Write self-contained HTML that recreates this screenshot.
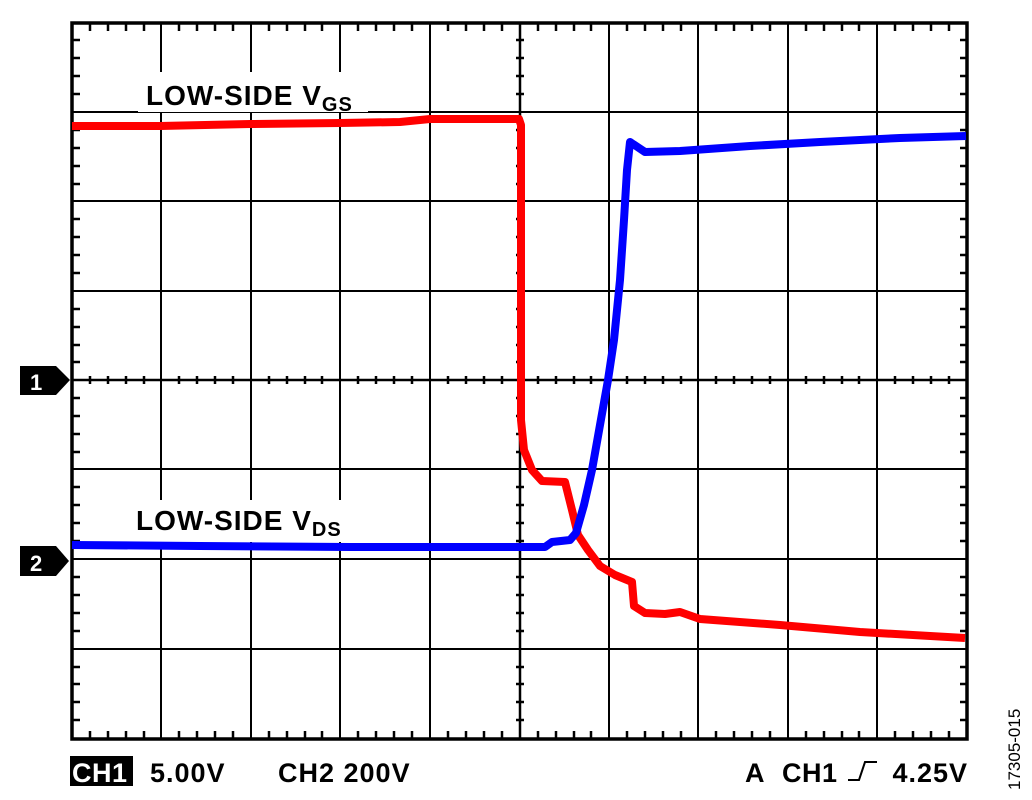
<!DOCTYPE html>
<html><head><meta charset="utf-8"><style>
html,body{margin:0;padding:0;background:#fff;}
svg{display:block;font-family:"Liberation Sans",Arial,sans-serif;font-weight:bold;}
</style></head><body>
<svg width="1032" height="800" viewBox="0 0 1032 800" xmlns="http://www.w3.org/2000/svg">
<g stroke="#000" stroke-width="2" fill="none">
<path d="M161,23V739M251,23V739M340,23V739M430,23V739M609,23V739M698,23V739M788,23V739M877,23V739"/>
<path d="M72,112H967M72,201H967M72,291H967M72,469H967M72,559H967M72,649H967"/>
<path d="M520,23V739M72,380H967" stroke-width="2.5"/>
</g>
<g stroke="#000" stroke-width="2.5">
<path d="M90,24v7M108,24v7M126,24v7M144,24v7M179,24v7M197,24v7M215,24v7M233,24v7M269,24v7M287,24v7M305,24v7M322,24v7M358,24v7M376,24v7M394,24v7M412,24v7M448,24v7M466,24v7M484,24v7M502,24v7M538,24v7M556,24v7M574,24v7M591,24v7M627,24v7M645,24v7M663,24v7M681,24v7M716,24v7M734,24v7M752,24v7M770,24v7M806,24v7M824,24v7M842,24v7M859,24v7M895,24v7M913,24v7M931,24v7M949,24v7"/>
<path d="M90,738v-7M108,738v-7M126,738v-7M144,738v-7M179,738v-7M197,738v-7M215,738v-7M233,738v-7M269,738v-7M287,738v-7M305,738v-7M322,738v-7M358,738v-7M376,738v-7M394,738v-7M412,738v-7M448,738v-7M466,738v-7M484,738v-7M502,738v-7M538,738v-7M556,738v-7M574,738v-7M591,738v-7M627,738v-7M645,738v-7M663,738v-7M681,738v-7M716,738v-7M734,738v-7M752,738v-7M770,738v-7M806,738v-7M824,738v-7M842,738v-7M859,738v-7M895,738v-7M913,738v-7M931,738v-7M949,738v-7"/>
<path d="M90,376v8M108,376v8M126,376v8M144,376v8M179,376v8M197,376v8M215,376v8M233,376v8M269,376v8M287,376v8M305,376v8M322,376v8M358,376v8M376,376v8M394,376v8M412,376v8M448,376v8M466,376v8M484,376v8M502,376v8M538,376v8M556,376v8M574,376v8M591,376v8M627,376v8M645,376v8M663,376v8M681,376v8M716,376v8M734,376v8M752,376v8M770,376v8M806,376v8M824,376v8M842,376v8M859,376v8M895,376v8M913,376v8M931,376v8M949,376v8"/>
<path d="M73,40h7M73,58h7M73,76h7M73,94h7M73,130h7M73,148h7M73,166h7M73,184h7M73,219h7M73,237h7M73,255h7M73,273h7M73,309h7M73,327h7M73,345h7M73,362h7M73,398h7M73,416h7M73,434h7M73,452h7M73,487h7M73,505h7M73,523h7M73,541h7M73,577h7M73,595h7M73,613h7M73,631h7M73,667h7M73,684h7M73,702h7M73,720h7"/>
<path d="M967,40h-7M967,58h-7M967,76h-7M967,94h-7M967,130h-7M967,148h-7M967,166h-7M967,184h-7M967,219h-7M967,237h-7M967,255h-7M967,273h-7M967,309h-7M967,327h-7M967,345h-7M967,362h-7M967,398h-7M967,416h-7M967,434h-7M967,452h-7M967,487h-7M967,505h-7M967,523h-7M967,541h-7M967,577h-7M967,595h-7M967,613h-7M967,631h-7M967,667h-7M967,684h-7M967,702h-7M967,720h-7"/>
<path d="M516,40h8M516,58h8M516,76h8M516,94h8M516,130h8M516,148h8M516,166h8M516,184h8M516,219h8M516,237h8M516,255h8M516,273h8M516,309h8M516,327h8M516,345h8M516,362h8M516,398h8M516,416h8M516,434h8M516,452h8M516,487h8M516,505h8M516,523h8M516,541h8M516,577h8M516,595h8M516,613h8M516,631h8M516,667h8M516,684h8M516,702h8M516,720h8"/>
</g>
<rect x="72" y="23" width="895" height="716" fill="none" stroke="#000" stroke-width="3.5"/>
<rect x="138" y="72" width="230" height="40" fill="#fff"/>
<text x="146" y="105" font-size="28" letter-spacing="1">LOW-SIDE V<tspan font-size="20" dy="6">GS</tspan></text>
<rect x="130" y="500" width="225" height="42" fill="#fff"/>
<text x="136" y="530" font-size="28" letter-spacing="1">LOW-SIDE V<tspan font-size="20" dy="6">DS</tspan></text>
<polyline fill="none" stroke="#f00" stroke-width="8" stroke-linejoin="round" points="72,126 160,126 250,124 340,123 400,122 430,119 519,119 521,125 521,420 524,450 532,470 542,481 565,482 572,510 578,535 588,550 600,566 615,575 632,582 634,606 645,613 665,614 680,612 700,619 780,625 860,632 965,638"/>
<polyline fill="none" stroke="#00f" stroke-width="8" stroke-linejoin="round" points="72,545 200,546 350,547 545,547 552,542 570,540 576,533 584,505 592,470 600,425 608,380 614,340 620,280 624,220 627,170 630,142 645,152 680,151 750,146 820,142 900,138 966,136"/>
<path d="M20,366h36l14,14l-14,15h-36z" fill="#000"/>
<text x="30" y="390" font-size="22" fill="#fff">1</text>
<path d="M20,546h36l13,15l-13,15h-36z" fill="#000"/>
<text x="30" y="571" font-size="22" fill="#fff">2</text>
<rect x="70" y="756" width="63" height="30" fill="#000"/>
<text x="72" y="782" font-size="27" fill="#fff" letter-spacing="0.5">CH1</text>
<text x="150" y="782" font-size="27" letter-spacing="1">5.00V</text>
<text x="278" y="782" font-size="27" letter-spacing="1">CH2 200V</text>
<text x="745" y="782" font-size="27">A</text>
<text x="782" y="782" font-size="27" letter-spacing="0.5">CH1</text>
<path d="M848,780h11l6,-18h12" fill="none" stroke="#000" stroke-width="2"/>
<text x="968" y="782" font-size="27" text-anchor="end" letter-spacing="1">4.25V</text>
<text transform="translate(1020,790) rotate(-90)" font-size="17" font-weight="normal">17305-015</text>
</svg>
</body></html>
